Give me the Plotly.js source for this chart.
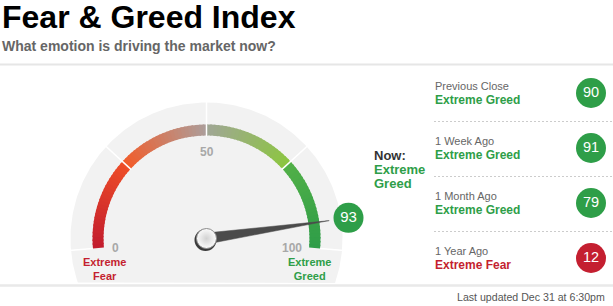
<!DOCTYPE html>
<html>
<head>
<meta charset="utf-8">
<script src="https://cdn.plot.ly/plotly-3.0.1.min.js"></script>
<style>
html,body{margin:0;padding:0;background:#fff;}
#chart{width:613px;height:306px;}
</style>
</head>
<body>
<div id="chart"></div>
<script>
// ---- data ----
const currentValue = 93;
const currentRating = 'Extreme Greed';
const tickValues = [0, 50, 100];
const tickLabels = ['0', '50', '100'];
const zoneBounds = [0, 25, 50, 75, 100];
const endLabels = ['Extreme<br>Fear', 'Extreme<br>Greed'];
const historyLabels = ['Previous Close', '1 Week Ago', '1 Month Ago', '1 Year Ago'];
const historyValues = [90, 91, 79, 12];
const historyRatings = ['Extreme Greed', 'Extreme Greed', 'Extreme Greed', 'Extreme Fear'];
const updatedText = 'Last updated Dec 31 at 6:30pm';

// ---- style / geometry ----
const FONT = 'Liberation Sans, Arial, Helvetica, sans-serif';
const GREEN = '#2e9e48', RED = '#c41f30';
const cx = 206.5, cy = 238.5;
const rIn = 103, rOut = 114, rBg = 136;
const ang0 = 185, span = 190; // degrees for value 0 .. 100
function toXY(v, r) {
  const a = (ang0 - span * v / 100) * Math.PI / 180;
  return [cx + r * Math.cos(a), cy - r * Math.sin(a)];
}
const stops = [
  [0, 25, [194, 28, 46], [238, 78, 40]],
  [25, 50, [242, 92, 42], [172, 158, 155]],
  [50, 75, [160, 166, 150], [140, 198, 64]],
  [75, 100, [82, 176, 72], [46, 157, 72]]
];
function colorAt(v) {
  for (const s of stops) {
    if (v >= s[0] && v <= s[1]) {
      const t = (v - s[0]) / (s[1] - s[0]);
      const c = s[2].map((a, i) => Math.round(a + (s[3][i] - a) * t));
      return 'rgb(' + c.join(',') + ')';
    }
  }
  return '#888';
}
const ratingColor = r => /Greed/.test(r) ? GREEN : RED;

const traces = [];
// gray background disc clipped at bottom
(function () {
  const yClip = 283;
  const aClip = Math.asin(-(yClip - cy) / rBg) * 180 / Math.PI;
  const xs = [], ys = [];
  for (let a = aClip; a <= 180 - aClip + 0.001; a += 1) {
    const rad = a * Math.PI / 180;
    xs.push(cx + rBg * Math.cos(rad)); ys.push(cy - rBg * Math.sin(rad));
  }
  xs.push(xs[0]); ys.push(ys[0]);
  traces.push({x: xs, y: ys, mode: 'lines', fill: 'toself', fillcolor: '#f2f2f2',
    line: {width: 0, color: '#f2f2f2'}, hoverinfo: 'skip', showlegend: false});
})();
// gradient arc wedges
for (let k = 0; k < 100; k++) {
  const v0 = k, v1 = Math.min(100, k + 1.4);
  const p = [toXY(v0, rOut), toXY((v0 + v1) / 2, rOut), toXY(v1, rOut), toXY(v1, rIn), toXY((v0 + v1) / 2, rIn), toXY(v0, rIn), toXY(v0, rOut)];
  const col = colorAt(k + 0.5);
  traces.push({x: p.map(q => q[0]), y: p.map(q => q[1]), mode: 'lines', fill: 'toself',
    fillcolor: col, line: {width: 0, color: col}, hoverinfo: 'skip', showlegend: false});
}
// white separators
(function () {
  const xs = [], ys = [];
  zoneBounds.forEach(v => {
    const inner = (v === 0 || v === 100) ? rOut : rIn - 1;
    const a = toXY(v, inner), b = toXY(v, rBg + 2);
    xs.push(a[0], b[0], null); ys.push(a[1], b[1], null);
  });
  traces.push({x: xs, y: ys, mode: 'lines', line: {color: '#ffffff', width: 1.5},
    hoverinfo: 'skip', showlegend: false});
})();
// needle
(function () {
  const a = (ang0 - span * currentValue / 100) * Math.PI / 180;
  const tip = toXY(currentValue, 124);
  const hw = 5.5;
  const px = Math.sin(a) * hw, py = Math.cos(a) * hw;
  const xs = [cx + px, tip[0], cx - px, cx + px];
  const ys = [cy + py, tip[1], cy - py, cy + py];
  traces.push({x: xs, y: ys, mode: 'lines', fill: 'toself', fillcolor: '#4b4b4b',
    line: {width: 0.5, color: '#4b4b4b'}, hoverinfo: 'skip', showlegend: false});
})();
// knob shadow + knob
traces.push({x: [cx - 1], y: [cy + 1.5], mode: 'markers',
  marker: {size: 22, color: '#3a3a3a', line: {width: 0}}, hoverinfo: 'skip', showlegend: false});
traces.push({x: [cx], y: [cy], mode: 'markers',
  marker: {size: 20, color: '#fbfbfb', gradient: {type: 'radial', color: '#d2d2d2'},
    line: {width: 1, color: '#8c8c8c'}}, hoverinfo: 'skip', showlegend: false});
// current value bubble
(function () {
  const b = toXY(currentValue, 143.5);
  traces.push({x: [b[0]], y: [b[1]], mode: 'markers+text', text: [String(currentValue)],
    textposition: 'middle center', textfont: {family: FONT, size: 15, color: '#fff'},
    marker: {size: 30, color: ratingColor(currentRating), line: {width: 0}},
    hoverinfo: 'skip', showlegend: false});
})();
// history bubbles
const rowY = historyValues.map((v, i) => 93 + 55 * i);
traces.push({x: historyValues.map(() => 591), y: rowY, mode: 'markers+text',
  text: historyValues.map(String), textposition: 'middle center',
  textfont: {family: FONT, size: 14.5, color: '#fff'},
  marker: {size: 30, color: historyRatings.map(ratingColor), line: {width: 0}},
  hoverinfo: 'skip', showlegend: false});

// ---- annotations ----
const ann = [];
function A(text, x, y, opts) {
  ann.push(Object.assign({text: text, x: x, y: y, xref: 'x', yref: 'y', showarrow: false,
    xanchor: 'left', yanchor: 'middle', borderpad: 0,
    font: {family: FONT, size: 12, color: '#000'}}, opts || {}));
}
A('<b>Fear &amp; Greed Index</b>', 1, 16.5, {font: {family: FONT, size: 32, color: '#000'}});
A('<b>What emotion is driving the market now?</b>', 1, 45.5, {font: {family: FONT, size: 14, color: '#666666'}});
// ticks
const tickPos = {0: [115, 248], 50: [206.7, 151.5], 100: [291.7, 248]};
tickValues.forEach((v, i) => {
  A('<b>' + tickLabels[i] + '</b>', tickPos[v][0], tickPos[v][1], {xanchor: 'center',
    font: {family: FONT, size: 12, color: '#a8a8a8'}});
});
A('<b>' + endLabels[0] + '</b>', 104, 269, {xanchor: 'center', font: {family: FONT, size: 11, color: RED}});
A('<b>' + endLabels[1] + '</b>', 309.3, 269, {xanchor: 'center', font: {family: FONT, size: 11, color: GREEN}});
// now
A('<b>Now:</b>', 372.5, 155.5, {font: {family: FONT, size: 13, color: '#333333'}});
const nowParts = currentRating.split(' ');
A('<b>' + nowParts[0] + '</b>', 372.5, 169.5, {font: {family: FONT, size: 13, color: ratingColor(currentRating)}});
A('<b>' + nowParts[1] + '</b>', 372.5, 183.5, {font: {family: FONT, size: 13, color: ratingColor(currentRating)}});
// history rows
historyLabels.forEach((lab, i) => {
  A(lab, 434, 85.5 + 55 * i, {font: {family: FONT, size: 11, color: '#666666'}});
  A('<b>' + historyRatings[i] + '</b>', 434, 99.5 + 55 * i, {font: {family: FONT, size: 12, color: ratingColor(historyRatings[i])}});
});
A(updatedText, 606, 296.5, {xanchor: 'right', font: {family: FONT, size: 10.6, color: '#555555'}});

// ---- shapes ----
const shapes = [
  {type: 'line', xref: 'x', yref: 'y', x0: 0, x1: 613, y0: 64.5, y1: 64.5, line: {color: '#e6e6e6', width: 2}},
  {type: 'line', xref: 'x', yref: 'y', x0: 0, x1: 613, y0: 285.5, y1: 285.5, line: {color: '#e9e9e9', width: 2.5}}
];
[121, 176, 231].forEach(y => shapes.push({type: 'line', xref: 'x', yref: 'y', x0: 434, x1: 613,
  y0: y + 0.5, y1: y + 0.5, line: {color: '#cccccc', width: 1, dash: '2px,2px'}}));

const layout = {
  width: 613, height: 306, margin: {l: 0, r: 0, t: 0, b: 0, pad: 0},
  paper_bgcolor: '#ffffff', plot_bgcolor: '#ffffff',
  xaxis: {range: [0, 613], visible: false, fixedrange: true},
  yaxis: {range: [306, 0], visible: false, fixedrange: true},
  showlegend: false, hovermode: false,
  annotations: ann, shapes: shapes
};
Plotly.newPlot('chart', traces, layout, {displayModeBar: false, staticPlot: true});
</script>
</body>
</html>
